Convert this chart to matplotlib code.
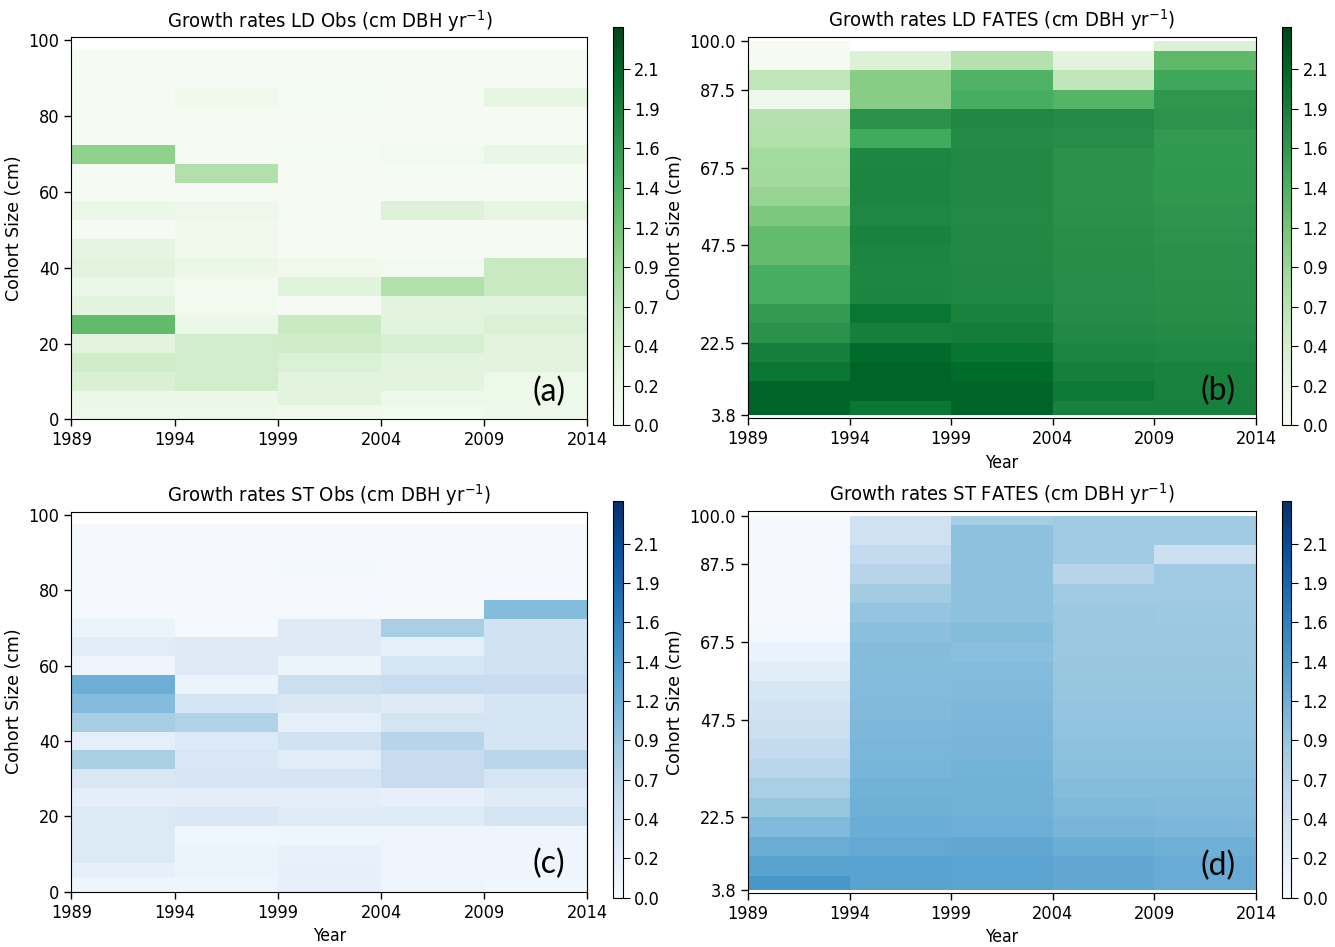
import numpy as np
import matplotlib
matplotlib.use('Agg')
import matplotlib.pyplot as plt
from matplotlib.ticker import FormatStrFormatter

plt.rcParams['font.family'] = ['DejaVu Sans']
plt.rcParams['font.stretch'] = 'condensed'

# time edges (5-yr census intervals)
years = [1989, 1994, 1999, 2004, 2009, 2014]

# size-class edges (cm DBH)
obs_edges = [0, 3.75, 7.5, 12.5, 17.5, 22.5, 27.5, 32.5, 37.5, 42.5, 47.5,
             52.5, 57.5, 62.5, 67.5, 72.5, 77.5, 82.5, 87.5, 92.5, 97.5]
fates_edges = [3.75, 7.5, 12.5, 17.5, 22.5, 27.5, 32.5, 37.5, 42.5, 47.5,
               52.5, 57.5, 62.5, 67.5, 72.5, 77.5, 82.5, 87.5, 92.5, 97.5, 100]

nan = np.nan

# growth rates, rows listed from largest size class down to smallest
ld_obs = [
    [0.03, 0.03, 0.03, 0.03, 0.03],
    [0.03, 0.03, 0.03, 0.03, 0.03],
    [0.03, 0.12, 0.06, 0.03, 0.26],
    [0.03, 0.03, 0.03, 0.03, 0.03],
    [0.03, 0.03, 0.03, 0.03, 0.03],
    [1.00, 0.03, 0.06, 0.10, 0.22],
    [0.03, 0.75, 0.03, 0.04, 0.04],
    [0.04, 0.04, 0.03, 0.03, 0.03],
    [0.20, 0.16, 0.03, 0.36, 0.26],
    [0.04, 0.12, 0.04, 0.03, 0.03],
    [0.28, 0.12, 0.04, 0.04, 0.03],
    [0.32, 0.20, 0.12, 0.08, 0.58],
    [0.20, 0.09, 0.34, 0.76, 0.58],
    [0.32, 0.09, 0.03, 0.33, 0.33],
    [1.28, 0.20, 0.56, 0.33, 0.40],
    [0.32, 0.48, 0.50, 0.45, 0.33],
    [0.50, 0.48, 0.40, 0.33, 0.33],
    [0.42, 0.48, 0.33, 0.33, 0.18],
    [0.20, 0.20, 0.33, 0.18, 0.18],
    [0.16, 0.16, 0.12, 0.10, 0.14],
]

ld_fates = [
    [0.03, nan, nan, nan, 0.40],
    [0.03, 0.38, 0.73, 0.33, 1.30],
    [0.64, 1.05, 1.38, 0.64, 1.50],
    [0.14, 1.05, 1.44, 1.35, 1.66],
    [0.73, 1.69, 1.79, 1.76, 1.68],
    [0.76, 1.47, 1.76, 1.74, 1.62],
    [0.87, 1.81, 1.78, 1.69, 1.63],
    [0.88, 1.82, 1.78, 1.69, 1.64],
    [0.95, 1.82, 1.78, 1.69, 1.65],
    [1.12, 1.80, 1.77, 1.70, 1.67],
    [1.27, 1.84, 1.78, 1.72, 1.68],
    [1.27, 1.82, 1.78, 1.73, 1.70],
    [1.44, 1.81, 1.79, 1.74, 1.71],
    [1.44, 1.82, 1.80, 1.74, 1.72],
    [1.61, 1.97, 1.84, 1.75, 1.73],
    [1.69, 1.88, 1.90, 1.78, 1.76],
    [1.88, 2.07, 1.98, 1.82, 1.80],
    [1.96, 2.12, 2.06, 1.88, 1.84],
    [2.12, 2.12, 2.12, 1.93, 1.86],
    [2.12, 1.96, 2.12, 1.85, 1.87],
]

st_obs = [
    [0.03, 0.03, 0.03, 0.03, 0.03],
    [0.03, 0.03, 0.03, 0.03, 0.03],
    [0.03, 0.03, 0.06, 0.03, 0.03],
    [0.03, 0.03, 0.03, 0.03, 0.03],
    [0.03, 0.03, 0.03, 0.03, 1.03],
    [0.14, 0.03, 0.30, 0.80, 0.45],
    [0.27, 0.30, 0.30, 0.22, 0.45],
    [0.12, 0.30, 0.13, 0.38, 0.48],
    [1.17, 0.14, 0.52, 0.56, 0.55],
    [1.02, 0.40, 0.36, 0.30, 0.40],
    [0.81, 0.74, 0.22, 0.43, 0.40],
    [0.22, 0.33, 0.46, 0.70, 0.40],
    [0.80, 0.36, 0.27, 0.57, 0.68],
    [0.36, 0.39, 0.40, 0.57, 0.38],
    [0.24, 0.24, 0.24, 0.20, 0.28],
    [0.32, 0.34, 0.28, 0.28, 0.43],
    [0.32, 0.09, 0.11, 0.12, 0.11],
    [0.32, 0.14, 0.18, 0.12, 0.11],
    [0.20, 0.14, 0.20, 0.12, 0.11],
    [0.11, 0.11, 0.20, 0.12, 0.10],
]

st_fates = [
    [0.03, 0.47, 0.83, 0.87, 0.87],
    [0.03, 0.47, 0.98, 0.87, 0.87],
    [0.03, 0.60, 0.98, 0.87, 0.50],
    [0.03, 0.70, 0.98, 0.70, 0.87],
    [0.03, 0.85, 0.98, 0.87, 0.88],
    [0.03, 0.94, 0.98, 0.90, 0.89],
    [0.06, 1.00, 1.03, 0.90, 0.90],
    [0.15, 1.02, 1.00, 0.90, 0.90],
    [0.26, 1.03, 1.04, 0.91, 0.91],
    [0.38, 1.04, 1.05, 0.92, 0.92],
    [0.45, 1.05, 1.07, 0.94, 0.94],
    [0.52, 1.07, 1.09, 0.96, 0.96],
    [0.60, 1.09, 1.10, 0.98, 0.98],
    [0.68, 1.11, 1.12, 1.00, 1.00],
    [0.80, 1.13, 1.13, 1.03, 1.02],
    [0.92, 1.15, 1.14, 1.06, 1.05],
    [1.05, 1.18, 1.17, 1.10, 1.08],
    [1.18, 1.23, 1.24, 1.18, 1.15],
    [1.30, 1.30, 1.29, 1.24, 1.20],
    [1.42, 1.30, 1.29, 1.24, 1.20],
]

titles = ['Growth rates LD Obs (cm DBH yr$^{-1}$)',
          'Growth rates LD FATES (cm DBH yr$^{-1}$)',
          'Growth rates ST Obs (cm DBH yr$^{-1}$)',
          'Growth rates ST FATES (cm DBH yr$^{-1}$)']
panel_tags = ['(a)', '(b)', '(c)', '(d)']
obs_yticks = [0, 20, 40, 60, 80, 100]
fates_yticks = [3.75, 22.5, 47.5, 67.5, 87.5, 100]
cbar_labels = ['0.0', '0.2', '0.4', '0.7', '0.9', '1.2', '1.4', '1.6', '1.9', '2.1']

vmax = 2.35

fig = plt.figure(figsize=(13.35, 9.47), dpi=100)

# [left, bottom, width, height] in figure fraction
ax_pos = [[0.0535, 0.5572, 0.3865, 0.4037],
          [0.5603, 0.5583, 0.3805, 0.4030],
          [0.0535, 0.0584, 0.3865, 0.4013],
          [0.5603, 0.0570, 0.3805, 0.4034]]
cb_pos = [[0.4595, 0.5510, 0.0068, 0.4205],
          [0.9600, 0.5510, 0.0068, 0.4205],
          [0.4595, 0.0520, 0.0068, 0.4185],
          [0.9600, 0.0520, 0.0068, 0.4185]]

panels = [(ld_obs, obs_edges, 'Greens', False),
          (ld_fates, fates_edges, 'Greens', True),
          (st_obs, obs_edges, 'Blues', False),
          (st_fates, fates_edges, 'Blues', True)]

for i, (vals, edges, cmap, is_fates) in enumerate(panels):
    ax = fig.add_axes(ax_pos[i])
    z = np.ma.masked_invalid(np.flipud(np.array(vals, dtype=float)))
    mesh = ax.pcolormesh(years, edges, z, cmap=cmap, vmin=0, vmax=vmax,
                         shading='flat', linewidth=0, antialiased=False)
    ax.set_xlim(1989, 2014)
    ax.set_xticks(years)
    if is_fates:
        ax.set_ylim(3.0, 101.2)
        ax.set_yticks(fates_yticks)
        ax.yaxis.set_major_formatter(FormatStrFormatter('%.1f'))
    else:
        ax.set_ylim(0, 100.9)
        ax.set_yticks(obs_yticks)
    ax.tick_params(labelsize=13, length=5, width=1)
    ax.set_ylabel('Cohort Size (cm)', fontsize=12.5, fontstretch='normal')
    if i > 0:
        ax.set_xlabel('Year', fontsize=12.5)
    ax.set_title(titles[i], fontsize=14.5, pad=7)
    ax.text(0.925, 0.072, panel_tags[i], transform=ax.transAxes,
            ha='center', va='center', fontsize=23, family='Lato',
            fontstretch='normal')

    cax = fig.add_axes(cb_pos[i])
    cb = fig.colorbar(mesh, cax=cax)
    cb.set_ticks(np.linspace(0, 2.1, 10))
    cb.set_ticklabels(cbar_labels)
    cb.ax.tick_params(labelsize=13, length=5)

fig.savefig('out.png', dpi=100)
